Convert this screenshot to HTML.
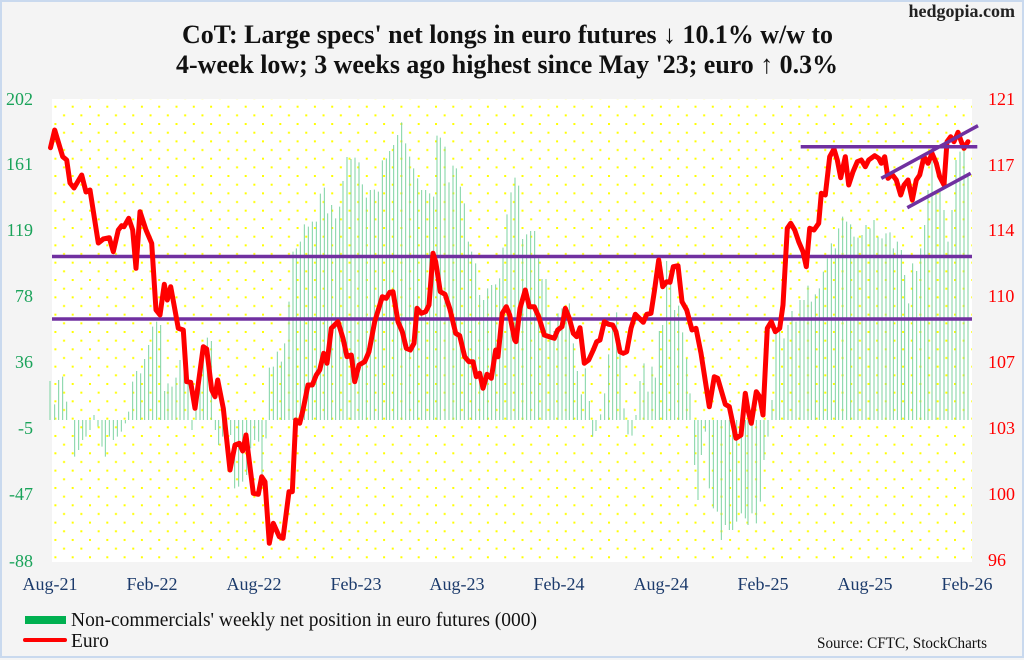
<!DOCTYPE html>
<html>
<head>
<meta charset="utf-8">
<style>
html,body{margin:0;padding:0;background:#f4f4f4;}
svg{display:block;}
text{font-family:"Liberation Serif","DejaVu Serif",serif;}
</style>
</head>
<body>
<svg width="1024" height="660" viewBox="0 0 1024 660" xmlns="http://www.w3.org/2000/svg">
<defs>
<pattern id="dots" patternUnits="userSpaceOnUse" x="54.4" y="105.7" width="17.3" height="17.33">
<rect x="0" y="0" width="2" height="2" fill="#ffff00"/>
<rect x="8.65" y="8.67" width="2" height="2" fill="#ffff00"/>
</pattern>
</defs>
<rect x="0" y="0" width="1024" height="660" fill="#f4f4f4"/>
<rect x="1" y="1" width="1022" height="656" fill="none" stroke="#c9d9ee" stroke-width="2"/>
<!-- plot area -->
<rect x="52" y="99" width="920" height="463" fill="#ffffff"/>
<rect x="52" y="99" width="920" height="463" fill="url(#dots)"/>

<!-- bars -->
<g stroke="#7cd3a2" fill="none">
<g transform="translate(50,95) scale(0.333333)" stroke-width="3">
<path d="M0 975V858M14 975V928M26 975V855M38 975V845M50 975V920M74 975V1085M86 975V1065M98 975V1035M108 975V1025M120 975V1005M132 975V960M144 975V995M156 975V1055M166 975V1085M178 975V1025M190 975V1035M202 975V1025M214 975V1010M226 975V985M236 975V950M248 975V860M260 975V828M272 975V835M284 975V792M296 975V750M308 975V695M320 975V680M332 975V690M344 975V888M354 975V865M366 975V875M378 975V848M390 975V795M402 975V820M414 975V860M426 975V1005M438 975V920M450 975V790M460 975V760M472 975V728M484 975V738M496 975V1005M506 975V1050M518 975V1025M530 975V1000M542 975V1020M554 975V1180M566 975V1175M578 975V1160M590 975V1140M602 975V1060M614 975V1035M626 975V1040M636 975V1140M648 975V1030M658 975V818M670 975V815M682 975V770M694 975V800"/>
</g>
<g transform="translate(283,95) scale(0.333333)" stroke-width="3">
<path d="M5 975V745M18 975V620M30 975V470M40 975V460M52 975V440M64 975V388M76 975V395M88 975V380M100 975V380M112 975V296M124 975V278M134 975V355M146 975V330M158 975V370M170 975V335M180 975V258M192 975V186M204 975V192M216 975V188M228 975V202M238 975V268M250 975V308M262 975V285M274 975V284M286 975V290M298 975V196M310 975V190M320 975V168M332 975V150M344 975V120M356 975V82M368 975V145M380 975V185M392 975V220M404 975V250M416 975V285M428 975V285M440 975V295M452 975V305M462 975V122M472 975V128M486 975V155M498 975V262M510 975V212M520 975V220M532 975V275M544 975V325M556 975V440M566 975V470M578 975V505M590 975V600M602 975V615M614 975V580M626 975V570M638 975V568M650 975V550M660 975V458M672 975V358M684 975V292M696 975V248"/>
</g>
<g transform="translate(516,95) scale(0.333333)" stroke-width="3">
<path d="M8 975V272M20 975V432M32 975V418M44 975V408M56 975V408M68 975V490M78 975V552M90 975V552M102 975V675M114 975V708M126 975V655M138 975V640M150 975V655M160 975V625M172 975V745M184 975V828M196 975V898M208 975V820M220 975V918M230 975V1025M240 975V1008M254 975V958M266 975V895M278 975V778M290 975V700M302 975V652M312 975V735M324 975V940M336 975V1018M348 975V1022M360 975V960M372 975V858M384 975V805M396 975V890M408 975V815M418 975V848M430 975V708M440 975V690M452 975V498M464 975V560M476 975V645M488 975V632M500 975V712M512 975V790M522 975V895M536 975V1110M546 975V1215M556 975V1080M568 975V1010M580 975V1180M592 975V1240M604 975V1250M616 975V1335M628 975V1290M640 975V1305M650 975V1305M662 975V1280M676 975V1255M688 975V1270"/>
</g>
<g transform="translate(748,95) scale(0.333333)" stroke-width="3">
<path d="M0 975V1290M12 975V1255M25 975V1285M37 975V1220M48 975V1095M60 975V1025M72 975V915M84 975V710M95 975V695M108 975V730M120 975V690M132 975V648M144 975V680M156 975V615M168 975V615M180 975V572M190 975V620M202 975V598M214 975V580M226 975V530M238 975V490M250 975V445M262 975V460M272 975V400M284 975V365M296 975V380M308 975V388M318 975V425M330 975V428M342 975V420M354 975V390M366 975V400M378 975V375M390 975V425M402 975V430M414 975V415M426 975V412M436 975V460M448 975V440M460 975V465M470 975V540M482 975V625M494 975V505M506 975V528M518 975V460M530 975V390M540 975V285M552 975V200M564 975V290M576 975V280M588 975V345M600 975V440M612 975V345M624 975V195M636 975V170M648 975V150M660 975V240"/>
</g>
</g>

<!-- horizontal purple lines -->
<g stroke="#7030a0" stroke-width="3.5" fill="none">
<line x1="52" y1="256.5" x2="972" y2="256.5"/>
<line x1="52" y1="319" x2="972" y2="319"/>
</g>

<!-- euro line -->
<polyline fill="none" stroke="#ff0000" stroke-width="5" stroke-linejoin="round" stroke-linecap="round" points="
50.5,147.7 54.7,130 62.7,156.7 66.7,160 70,183 74,188 81.7,175 86,192 90,190 98.3,243 103.3,239 109.3,237.7 113.3,251.7 118.3,230 121.7,225.7 124,226.7 128.7,218.3 132.7,230 136,268.3 140,211.7 146,230 151.7,243.3 156,310 160,315 164.3,284.3 167.3,300 170.7,286.7 178.3,328.3 183.3,330 186.7,381.7 190.7,382.3 195,408.3 203.3,346.7 206.7,349 211.7,390 215,396.7 217.7,380 223.3,408.3 230,470 235,445 239.3,443.3 242.7,451 246,435 253.3,493.3 258.3,494.3 261.7,476.7 265,481.7 269.3,543.3 273.3,523.3 279.3,536.7 283,538.3
289,491.7 292.3,491.7 295.7,420 299.7,423.3 303,410 308,385 312.3,385 316.3,375 319.7,370 323.7,353.3 327,363.3 331.3,328.3 338,321.7 343,338.3 347,356.7 351.3,355 354.7,381.7 359,365 364.7,361.7 369,351.7 374.7,321.7 382.3,296.7 386.3,298.3 389.7,292.3 393,291.7 398,321.7 402.3,331.7 406.3,348.3 410.3,350 414,343.3 417,308.3 421.3,313.3 425.7,311.7 429,305 433,253.3 435.7,261.7 440.3,291.7 445,294.3 449.7,308.3 455.7,333.3 459.7,335.7 464.7,356.7 469,361.7 473,361.7 476.3,376.7 479.7,373.3 483,388.3 487,374.3 491.3,378.3 495.7,350 498,356.7 502.3,313.3 506.3,306.7 509.7,315 514.7,340
516,341.7 520,308.3 525.3,290 529.3,306.7 534.3,306.7 538.7,316.7 544.3,335 549.3,336.7 554.3,338.3 557.7,330 562,326.7 565.3,308.3 569.3,318.3 573.3,333.3 576.7,336.7 580,327.7 584.3,363.3 588.7,360 593.3,350 596.7,341.7 600,340 604.3,321.7 608.7,324.3 612.7,325 616,331.7 620,351.7 623.3,353.3 626.7,351.7 631,328.3 635.3,314.3 639.3,318.3 643.3,322.3 646.7,314.3 651,313.3 654.3,291.7 658.7,260 662.7,286.7 666.7,281.7 670,282.3 673.3,266.7 678,265.7 682,301.7 686.7,310 692,330 696,328.3 701,353.3 709.3,406.7 714.3,376.7 717.7,378.3 725.3,404.3 729.3,406.7 736,438.3 741,435 745.3,393.3
748,410 751.3,423.3 756.3,391.7 759.7,396.7 763,415 767.3,328.3 771.3,321.7 775.3,331.7 779.7,328.3 783,305 787.3,228.3 790.7,223.3 794.7,230 798.7,241.7 803,251.7 806.3,266.7 809.7,228.3 814,230 818.7,223.3 821.3,193.3 825.3,195 829.7,156.7 834,149 837.3,160 840.7,177.7 845.3,156.7 848.7,185 853,171.7 857.3,161.7 861.3,160 865.3,166.7 868.7,160 874.7,155.7 878.7,158.3 881.3,163.3 884.7,156.7 888,178.3 892,174.3 896.3,180 900.7,195 904,185 908,180 912.3,200 916.3,180 919.7,175 924,156.7 928,163.3 932,153.3 936.3,163.3 939.7,176.7 944,185 947,141.7 950.7,136.7 954,141.7 958,132.3 961.3,141.7 964,148.3 968,141.7"/>

<!-- channel & resistance lines -->
<g stroke="#7030a0" stroke-width="3.5" fill="none" stroke-linecap="butt">
<line x1="800.7" y1="146.7" x2="977.3" y2="146.7"/>
<line x1="881.3" y1="178.3" x2="978" y2="125.7"/>
<line x1="907.3" y1="207.7" x2="970.7" y2="173.3"/>
</g>

<!-- left axis labels -->
<g fill="#1aa35a" font-size="18" text-anchor="end">
<text x="33" y="105">202</text>
<text x="33" y="170">161</text>
<text x="33" y="236">119</text>
<text x="33" y="302">78</text>
<text x="33" y="368">36</text>
<text x="33" y="434">-5</text>
<text x="33" y="500">-47</text>
<text x="33" y="567">-88</text>
</g>
<!-- right axis labels -->
<g fill="#ff0000" font-size="18" text-anchor="start">
<text x="988" y="105">121</text>
<text x="988" y="171">117</text>
<text x="988" y="236">114</text>
<text x="988" y="302">110</text>
<text x="988" y="368">107</text>
<text x="988" y="434">103</text>
<text x="988" y="500">100</text>
<text x="988" y="566">96</text>
</g>
<!-- x axis labels -->
<g fill="#1b3a6b" font-size="18" text-anchor="middle">
<text x="50" y="590">Aug-21</text>
<text x="152" y="590">Feb-22</text>
<text x="254" y="590">Aug-22</text>
<text x="356" y="590">Feb-23</text>
<text x="457" y="590">Aug-23</text>
<text x="559" y="590">Feb-24</text>
<text x="661" y="590">Aug-24</text>
<text x="763" y="590">Feb-25</text>
<text x="865" y="590">Aug-25</text>
<text x="967" y="590">Feb-26</text>
</g>

<!-- title -->
<text x="182" y="43" font-size="26" font-weight="bold" fill="#111" textLength="651" lengthAdjust="spacingAndGlyphs">CoT: Large specs' net longs in euro futures ↓ 10.1% w/w to</text>
<text x="176" y="73" font-size="26" font-weight="bold" fill="#111" textLength="662" lengthAdjust="spacingAndGlyphs">4-week low; 3 weeks ago highest since May '23; euro ↑ 0.3%</text>
<text x="1015" y="17" font-size="18" font-weight="bold" fill="#222" text-anchor="end">hedgopia.com</text>

<!-- legend -->
<rect x="25" y="616" width="41" height="8" fill="#00b050"/>
<text x="71" y="626" font-size="19.5" fill="#111" textLength="466" lengthAdjust="spacingAndGlyphs">Non-commercials' weekly net position in euro futures (000)</text>
<line x1="25" y1="640" x2="65" y2="640" stroke="#ff0000" stroke-width="4" stroke-linecap="round"/>
<text x="71" y="647" font-size="19.5" fill="#111">Euro</text>
<text x="817" y="648" font-size="15.5" fill="#111" textLength="170" lengthAdjust="spacingAndGlyphs">Source: CFTC, StockCharts</text>
</svg>
</body>
</html>
